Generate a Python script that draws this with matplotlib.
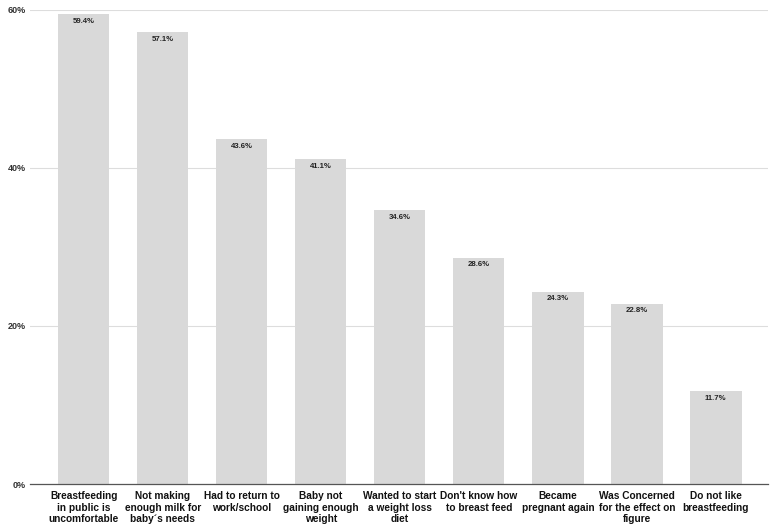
import matplotlib
matplotlib.use("Agg")
import matplotlib.pyplot as plt
from matplotlib.ticker import FuncFormatter

categories = [
    "Breastfeeding\nin public is\nuncomfortable",
    "Not making\nenough milk for\nbaby´s needs",
    "Had to return to\nwork/school",
    "Baby not\ngaining enough\nweight",
    "Wanted to start\na weight loss\ndiet",
    "Don't know how\nto breast feed",
    "Became\npregnant again",
    "Was Concerned\nfor the effect on\nfigure",
    "Do not like\nbreastfeeding",
]
values = [59.4, 57.1, 43.6, 41.1, 34.6, 28.6, 24.3, 22.8, 11.7]
yticks = [0, 20, 40, 60]

plt.rcParams['font.family'] = ['Liberation Sans', 'DejaVu Sans']

fig = plt.figure(figsize=(7.74, 5.30), dpi=100)
ax = fig.add_axes([30/774, 46/530, 738/774, 474.5/530])

x = list(range(len(categories)))
ax.bar(x, values, width=0.65, color="#d9d9d9", zorder=2)
for xi, v in zip(x, values):
    ax.text(xi, v - 0.45, f"{v}%", ha="center", va="top", fontsize=5.6,
            fontweight="bold", color="#222222", zorder=3)

ax.set_xlim(-0.68, 8.66)
ax.set_ylim(0, 60)
ax.set_yticks(yticks)
ax.yaxis.set_major_formatter(FuncFormatter(lambda v, p: f"{int(v)}%"))
ax.grid(axis="y", color="#dddddd", linewidth=0.8, zorder=0)
ax.set_xticks(x)
ax.set_xticklabels(categories, fontsize=7.3, fontweight="bold", color="#111111",
                   linespacing=1.2)
for lbl in ax.get_yticklabels():
    lbl.set_fontsize(6.5)
    lbl.set_fontweight("bold")
    lbl.set_color("#333333")
ax.tick_params(axis="x", length=0, pad=5)
ax.tick_params(axis="y", length=0, pad=3)
for s in ["top", "right", "left"]:
    ax.spines[s].set_visible(False)
ax.spines["bottom"].set_color("#555555")
ax.spines["bottom"].set_linewidth(0.9)

fig.savefig("out.png", dpi=100)
